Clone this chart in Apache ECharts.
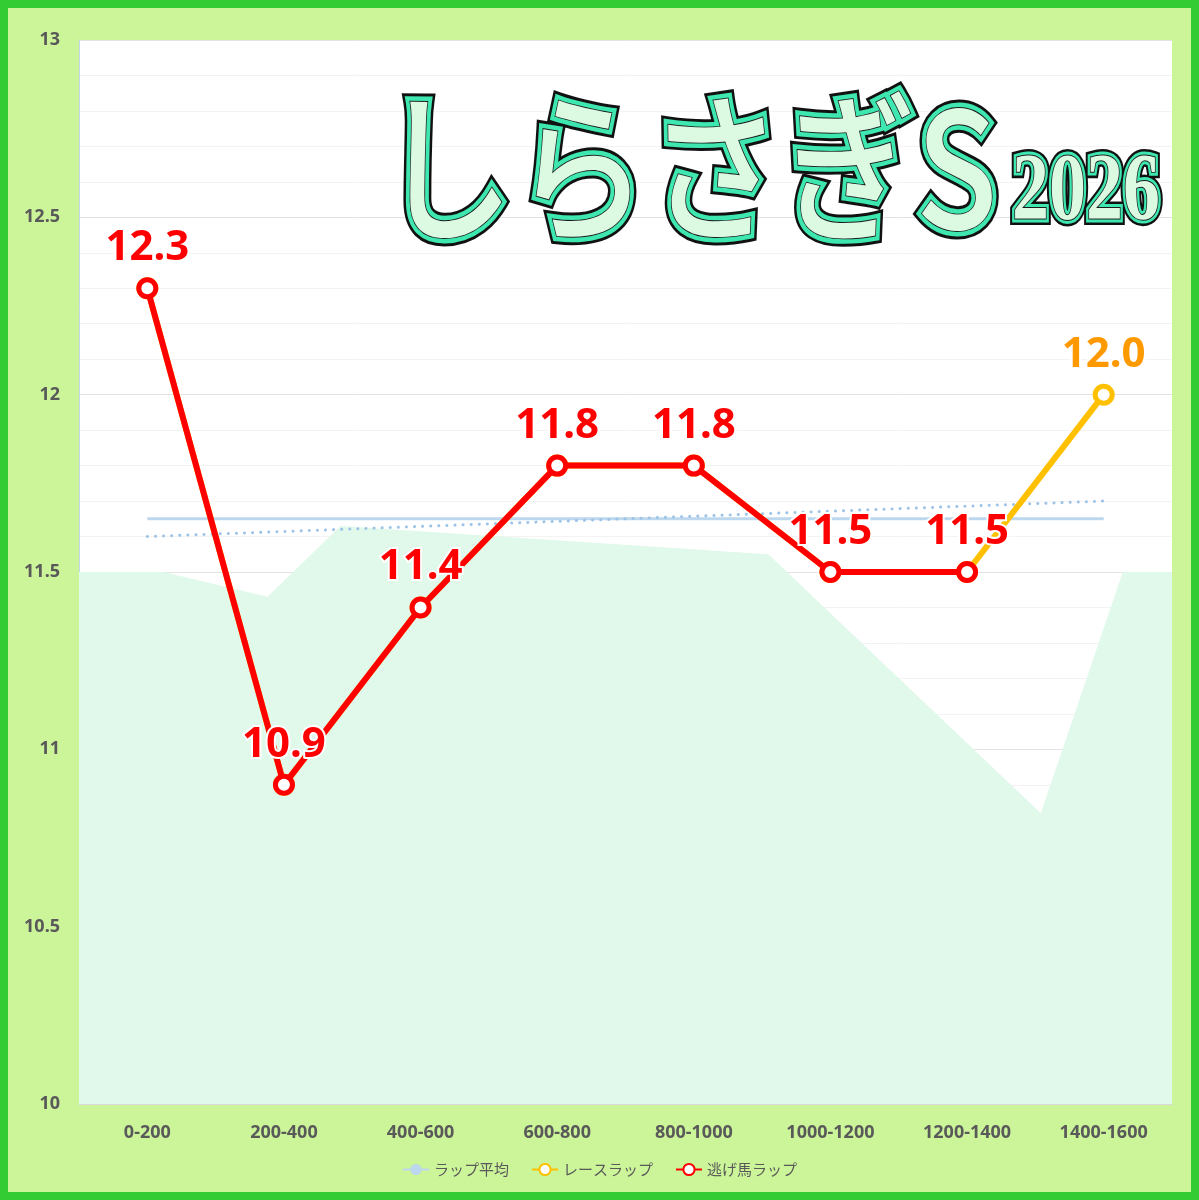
<!DOCTYPE html>
<html>
<head>
    <meta charset="UTF-8">
    <title>しらさぎS 2026 ラップ</title>
    <style>
        html, body { margin: 0; padding: 0; background: #fff; }
        #chart { width: 1199px; height: 1200px; }
    </style>
    <script src="https://cdn.jsdelivr.net/npm/echarts@6/dist/echarts.min.js"></script>
</head>
<body>
<div id="chart"></div>
<script>
    // 区間
    var categories = ['0-200', '200-400', '400-600', '600-800', '800-1000', '1000-1200', '1200-1400', '1400-1600'];
    // レースラップ
    var raceLap = [12.3, 10.9, 11.4, 11.8, 11.8, 11.5, 11.5, 12.0];
    // 逃げ馬ラップ (1400mまで)
    var nigeLap = [12.3, 10.9, 11.4, 11.8, 11.8, 11.5, 11.5, null];
    // ラップ平均
    var avgLap = [11.65, 11.65, 11.65, 11.65, 11.65, 11.65, 11.65, 11.65];
    // 近似線 (両端のみ読み取り)
    var trendLap = [11.60, null, null, null, null, null, null, 11.70];
    // 背景の面 (距離m, タイム)
    var areaDist = [0, 124, 276, 383, 1009, 1408, 1528, 1600];
    var areaLap = [11.5, 11.5, 11.43, 11.63, 11.55, 10.82, 11.5, 11.5];

    var labelFont = {
        fontFamily: 'Noto Sans',
        fontSize: 42,
        fontWeight: 'bold',
        textBorderColor: '#fff',
        textBorderWidth: 4
    };

    var chart = echarts.init(document.getElementById('chart'));

    // タイトル (縁取り文字を重ねて描く)
    function titleLayers(text, x, y, font, sy, outer, mid) {
        var base = {type: 'text', x: x, y: y, scaleY: sy, z: 100, silent: true};
        return [
            Object.assign({}, base, {style: {text: text, font: font, textAlign: 'left', textVerticalAlign: 'bottom',
                fill: '#111', stroke: '#111', lineWidth: outer, lineJoin: 'round'}}),
            Object.assign({}, base, {style: {text: text, font: font, textAlign: 'left', textVerticalAlign: 'bottom',
                fill: '#3ee6b0', stroke: '#3ee6b0', lineWidth: mid, lineJoin: 'round'}}),
            Object.assign({}, base, {style: {text: text, font: font, textAlign: 'left', textVerticalAlign: 'bottom',
                fill: '#dcf9e2', stroke: '#1a1a1a', lineWidth: 1.5, lineJoin: 'round'}})
        ];
    }

    var graphics = [
        {type: 'rect', shape: {x: 4, y: 4, width: 1191, height: 1192},
            style: {fill: 'none', stroke: '#33cc33', lineWidth: 8}, z: 100, silent: true}
    ];
    graphics = graphics.concat(titleLayers('しらさぎS', 380, 248, '500 134px "Noto Sans CJK JP"', 1.2, 14, 9));
    graphics = graphics.concat(titleLayers('2026', 1012, 242, 'bold 74px "Liberation Serif"', 1.3, 10, 6));

    var option = {
        backgroundColor: '#ccf59a',
        animation: false,
        textStyle: {fontFamily: 'Noto Sans'},
        grid: {
            left: 79, right: 27, top: 40, bottom: 96,
            show: true, backgroundColor: '#fff', borderWidth: 0
        },
        legend: {
            bottom: 18,
            left: 'center',
            itemWidth: 26,
            itemHeight: 14,
            itemGap: 22,
            textStyle: {color: '#595959', fontSize: 15, fontFamily: 'Noto Sans CJK JP'},
            data: ['ラップ平均', 'レースラップ', '逃げ馬ラップ']
        },
        xAxis: [
            {
                type: 'category',
                data: categories,
                boundaryGap: true,
                axisTick: {show: false},
                axisLine: {lineStyle: {color: '#d9d9d9'}},
                axisLabel: {color: '#595959', fontSize: 18, fontWeight: 'bold', margin: 20}
            },
            {
                type: 'value',
                min: 0,
                max: 1600,
                show: false
            }
        ],
        yAxis: {
            type: 'value',
            min: 10,
            max: 13,
            interval: 0.5,
            axisLine: {show: true, lineStyle: {color: '#c6d6ec'}},
            axisTick: {show: false},
            axisLabel: {color: '#595959', fontSize: 18, fontWeight: 'bold', margin: 19},
            splitLine: {lineStyle: {color: '#e3e3e3'}},
            minorTick: {show: false, splitNumber: 5},
            minorSplitLine: {show: true, lineStyle: {color: '#f3f3f3'}}
        },
        graphic: graphics,
        series: [
            {
                name: '面',
                type: 'line',
                xAxisIndex: 1,
                data: areaDist.map(function (d, i) { return [d, areaLap[i]]; }),
                symbol: 'none',
                lineStyle: {width: 0},
                areaStyle: {color: '#e1f9ea', opacity: 1, origin: 'start'},
                z: 1,
                silent: true
            },
            {
                name: 'ラップ平均',
                type: 'line',
                data: avgLap,
                symbol: 'none',
                itemStyle: {color: '#bdd7ee'},
                lineStyle: {color: '#bdd7ee', width: 3},
                z: 2
            },
            {
                name: '近似',
                type: 'line',
                data: trendLap,
                connectNulls: true,
                symbol: 'none',
                lineStyle: {color: '#9dc3e6', width: 3, type: [0.1, 8], cap: 'round'},
                z: 3
            },
            {
                name: 'レースラップ',
                type: 'line',
                data: raceLap.map(function (v, i) {
                    return i === raceLap.length - 1 ? {value: v, label: {show: true}} : v;
                }),
                symbol: 'circle',
                symbolSize: 17,
                itemStyle: {color: '#fff', borderColor: '#ffc000', borderWidth: 5},
                lineStyle: {color: '#ffc000', width: 6},
                label: Object.assign({
                    show: false, position: 'top', distance: 8, color: '#ff9900',
                    formatter: function (p) { return p.value.toFixed(1); }
                }, labelFont),
                z: 4
            },
            {
                name: '逃げ馬ラップ',
                type: 'line',
                data: nigeLap,
                symbol: 'circle',
                symbolSize: 17,
                itemStyle: {color: '#fff', borderColor: '#ff0000', borderWidth: 5},
                lineStyle: {color: '#ff0000', width: 6},
                label: Object.assign({
                    show: true, position: 'top', distance: 8, color: '#ff0000',
                    formatter: function (p) { return p.value.toFixed(1); }
                }, labelFont),
                z: 5
            }
        ]
    };
    chart.setOption(option);
</script>
</body>
</html>
